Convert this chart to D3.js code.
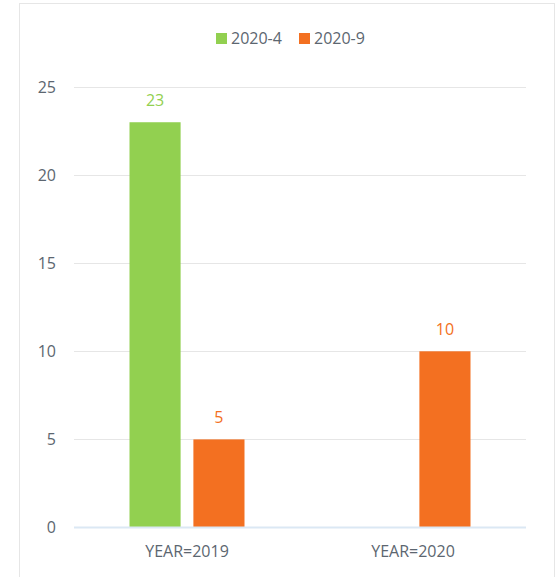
<!DOCTYPE html>
<html>
<head>
<meta charset="utf-8">
<script src="https://cdn.jsdelivr.net/npm/d3@7"></script>
<style>
  html, body { margin: 0; padding: 0; background: #fff; }
  svg text { font-family: "Open Sans", "Noto Sans", sans-serif; }
</style>
</head>
<body>
<svg id="chart" width="558" height="577"></svg>
<script>
const categories = ['YEAR=2019', 'YEAR=2020'];
const seriesNames = ['2020-4', '2020-9'];
const seriesColors = ['#92d050', '#f37021'];
// values per series, aligned to categories (null = no bar)
const values2020_4 = [23, null];
const values2020_9 = [5, 10];
const yTicks = [0, 5, 10, 15, 20, 25];

const seriesValues = [values2020_4, values2020_9];

const svg = d3.select('#chart');
const margin = { left: 74, right: 32, top: 87, bottom: 50 };
const W = 558, H = 577;

// card border
svg.append('rect')
  .attr('x', 19.5).attr('y', 3.5)
  .attr('width', 535).attr('height', 600)
  .attr('fill', '#fff')
  .attr('stroke', '#e6e6e6');

const x = d3.scaleBand()
  .domain(categories)
  .range([margin.left, W - margin.right])
  .padding(0);

const inner = d3.scaleBand()
  .domain(seriesNames)
  .range([-57.5, 57.5])
  .paddingInner(0.2);

const y = d3.scaleLinear()
  .domain([0, 25])
  .range([527.5, margin.top]);

// grid lines
svg.append('g')
  .selectAll('line')
  .data(yTicks.filter(t => t !== 0))
  .join('line')
  .attr('x1', margin.left).attr('x2', W - margin.right)
  .attr('y1', d => Math.round(y(d)) + 0.5).attr('y2', d => Math.round(y(d)) + 0.5)
  .attr('stroke', '#e6e6e6')
  .attr('stroke-width', 1);

// y labels
svg.append('g')
  .selectAll('text')
  .data(yTicks)
  .join('text')
  .attr('x', 56)
  .attr('y', d => y(d))
  .attr('dy', '0.35em')
  .attr('text-anchor', 'end')
  .attr('font-size', 16)
  .attr('fill', '#5c6670')
  .text(d => d);

// bars
seriesNames.forEach((name, si) => {
  const data = categories.map((c, i) => ({ c, v: seriesValues[si][i] })).filter(d => d.v != null);
  const g = svg.append('g');
  g.selectAll('rect')
    .data(data)
    .join('rect')
    .attr('x', d => x(d.c) + x.bandwidth() / 2 + inner(name))
    .attr('width', inner.bandwidth())
    .attr('y', d => y(d.v))
    .attr('height', d => y(0) - y(d.v))
    .attr('fill', seriesColors[si]);
  g.selectAll('text')
    .data(data)
    .join('text')
    .attr('x', d => x(d.c) + x.bandwidth() / 2 + inner(name) + inner.bandwidth() / 2)
    .attr('y', d => y(d.v) - 16)
    .attr('text-anchor', 'middle')
    .attr('font-size', 16)
    .attr('fill', seriesColors[si])
    .text(d => d.v);
});

// zero axis line
svg.append('line')
  .attr('x1', margin.left).attr('x2', W - margin.right)
  .attr('y1', y(0)).attr('y2', y(0))
  .attr('stroke', '#dbe8f4')
  .attr('stroke-width', 2);

// x labels
svg.append('g')
  .selectAll('text')
  .data(categories)
  .join('text')
  .attr('x', d => x(d) + x.bandwidth() / 2)
  .attr('y', 557)
  .attr('text-anchor', 'middle')
  .attr('font-size', 16)
  .attr('fill', '#5c6670')
  .text(d => d);

// legend
const legendX = [216, 299];
const legend = svg.append('g');
seriesNames.forEach((name, i) => {
  legend.append('rect')
    .attr('x', legendX[i]).attr('y', 33)
    .attr('width', 11).attr('height', 11)
    .attr('fill', seriesColors[i]);
  legend.append('text')
    .attr('x', legendX[i] + 15).attr('y', 38.5)
    .attr('dy', '0.35em')
    .attr('font-size', 16)
    .attr('fill', '#5c6670')
    .text(name);
});
</script>
</body>
</html>
